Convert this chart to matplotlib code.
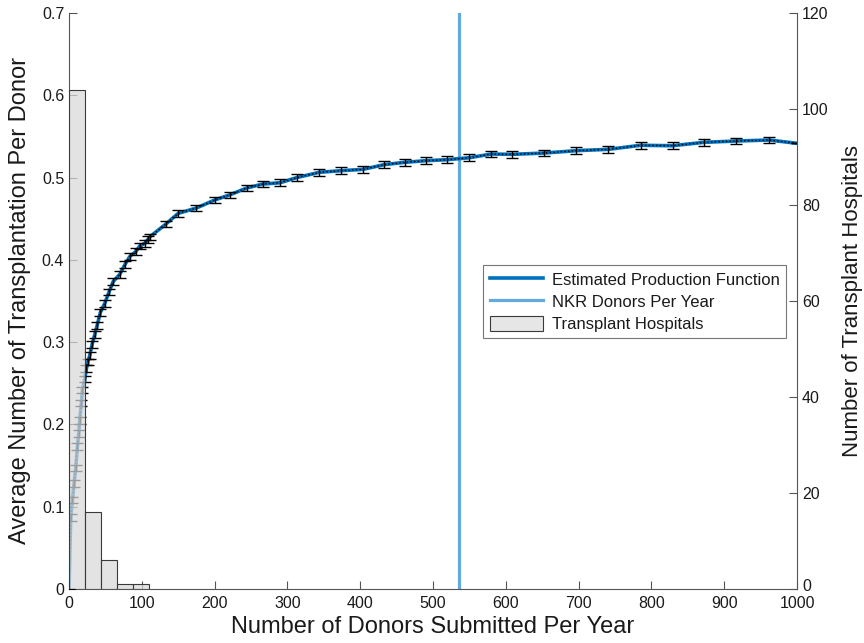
import matplotlib
matplotlib.use("Agg")
import matplotlib.pyplot as plt
import matplotlib.transforms as mtransforms
import numpy as np
from matplotlib.patches import Patch
from matplotlib.lines import Line2D

plt.rcParams['font.family'] = ['Liberation Sans', 'DejaVu Sans']

# ---- data ----
donors = [0, 2.3, 4.7, 6.9, 9.2, 11.5, 13.3, 14.7, 17, 18.4, 21.6, 23.9, 26, 28.5,
          31.6, 35.3, 38.5, 43, 49, 55, 60.5, 69.7, 76.6, 83.4, 91.7, 97.2, 104,
          108.6, 111, 133, 150, 175, 200, 221, 244, 266, 290, 313, 344, 373, 404,
          433, 461, 490, 519, 550, 580, 609, 653, 697, 741, 785, 829, 872, 916,
          962, 1000]
transplant_rate = [0.0, 0.087, 0.108, 0.128, 0.147, 0.173, 0.189, 0.205, 0.226,
                   0.242, 0.255, 0.268, 0.276, 0.284, 0.297, 0.309, 0.320, 0.336,
                   0.347, 0.361, 0.3735, 0.3824, 0.394, 0.404, 0.410, 0.417, 0.420,
                   0.425, 0.428, 0.4435, 0.4565, 0.463, 0.4727, 0.479, 0.4873,
                   0.4921, 0.4937, 0.500, 0.5064, 0.5083, 0.510, 0.5157, 0.5185,
                   0.5205, 0.5217, 0.5241, 0.5286, 0.5282, 0.5298, 0.5327, 0.5343,
                   0.5392, 0.5387, 0.5428, 0.5444, 0.5456, 0.5416]
rate_err = [0.0] + [0.004] * (len(donors) - 2) + [0.0]

nkr_donors = 535

hosp_bin_edges = [0, 22, 44, 66, 88, 110]
hosp_counts = [104, 16, 6, 1, 1]

xticks = list(range(0, 1001, 100))
yticks_left = [0, 0.1, 0.2, 0.3, 0.4, 0.5, 0.6, 0.7]
ytick_left_labels = ['0', '0.1', '0.2', '0.3', '0.4', '0.5', '0.6', '0.7']
yticks_right = list(range(0, 121, 20))

# ---- figure ----
fig = plt.figure(figsize=(8.64, 6.43), dpi=100)
ax = fig.add_axes([0.0799, 0.084, 0.8426, 0.8958])

blue = '#0072BD'
light_blue = '#62a9dc'
axis_col = '#555555'
text_col = '#1a1a1a'

ax.plot(donors, transplant_rate, color=blue, lw=2.6, zorder=2)
ax.errorbar(donors, transplant_rate, yerr=rate_err, fmt='k:', lw=1.0,
            elinewidth=1.0, capsize=4.5, capthick=1.0, zorder=3)
ax.axvline(nkr_donors, color=light_blue, lw=2.3, zorder=1)

ax.set_xlim(0, 1000)
ax.set_ylim(0, 0.7)
ax.set_xticks(xticks)
ax.set_yticks(yticks_left)
ax.set_yticklabels(ytick_left_labels)

ax2 = ax.twinx()
widths = np.diff(hosp_bin_edges)
ax2.bar(hosp_bin_edges[:-1], hosp_counts, width=widths, align='edge',
        facecolor=(0.85, 0.85, 0.85, 0.72), edgecolor='#3a3a3a', lw=0.8, zorder=2)
ax2.set_ylim(0, 120)
ax2.set_yticks(yticks_right)
ax2.set_xlim(0, 1000)

for a in (ax, ax2):
    a.spines['top'].set_visible(False)
    for s in a.spines.values():
        s.set_color(axis_col)
        s.set_linewidth(0.8)
    a.tick_params(direction='in', length=5.5, width=0.8, color=axis_col,
                  labelsize=11.5, labelcolor=text_col)
ax.tick_params(axis='x', pad=5)
ax.spines['right'].set_visible(False)
ax2.spines['left'].set_visible(False)
ax2.spines['bottom'].set_visible(False)

# nudge right-axis "0" label up slightly, as in the reference
fig.canvas.draw()
lab0 = ax2.get_yticklabels()[0]
lab0.set_transform(lab0.get_transform() +
                   mtransforms.ScaledTranslation(0, 3 / 72, fig.dpi_scale_trans))

ax.set_xlabel('Number of Donors Submitted Per Year', fontsize=17, color=text_col,
              labelpad=4)
ax.set_ylabel('Average Number of Transplantation Per Donor', fontsize=17,
              color=text_col, labelpad=8)
ax2.set_ylabel('Number of Transplant Hospitals', fontsize=16, color=text_col,
               labelpad=10)

handles = [Line2D([], [], color=blue, lw=2.6),
           Line2D([], [], color=light_blue, lw=2.3),
           Patch(facecolor=(0.9, 0.9, 0.9), edgecolor='#3a3a3a', lw=0.8)]
labels = ['Estimated Production Function', 'NKR Donors Per Year',
          'Transplant Hospitals']
leg = ax2.legend(handles, labels, loc='upper right',
                 bbox_to_anchor=(0.985, 0.5625), borderaxespad=0,
                 fontsize=12, frameon=True, fancybox=False, handlelength=3.2,
                 handleheight=1.0, handletextpad=0.5, borderpad=0.4,
                 labelspacing=0.35)
leg.get_frame().set_edgecolor('#555555')
leg.get_frame().set_linewidth(0.8)
for t in leg.get_texts():
    t.set_color(text_col)

fig.savefig('out.png', dpi=100)
